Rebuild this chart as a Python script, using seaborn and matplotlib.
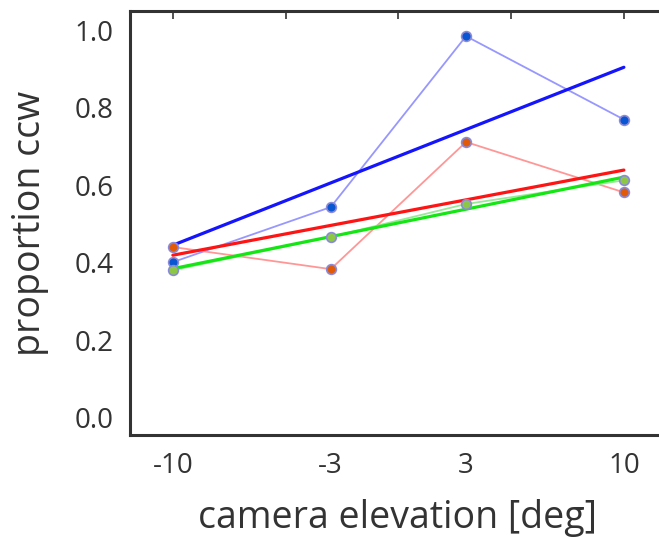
import numpy as np
import pandas as pd
import matplotlib
matplotlib.use("Agg")
import matplotlib.pyplot as plt
import seaborn as sns

# camera elevation conditions [deg]
elevation = [-10, -3, 3, 10]
tick_labels = ["-10", "-3", "3", "10"]

# proportion of ccw responses, one list per condition
blue_vals = [0.402, 0.544, 0.985, 0.770]
red_vals = [0.441, 0.384, 0.712, 0.582]
green_vals = [0.381, 0.467, 0.552, 0.613]

series = [
    ("blue", blue_vals, "#1414ff", "#8c8cff", "#0a55d2"),
    ("red", red_vals, "#ff1414", "#ff8c8c", "#e05a0a"),
    ("green", green_vals, "#14e614", "#8ce68c", "#8cc846"),
]

sns.set_style("white")
plt.rcParams["font.family"] = ["Open Sans", "DejaVu Sans"]

fig = plt.figure(figsize=(6.59, 5.38), dpi=100)
ax = fig.add_axes([0.1973, 0.1914, 0.811, 0.7882])

for name, vals, fit_col, thin_col, face_col in series:
    df = pd.DataFrame({"elev": elevation, "prop": vals})
    # least-squares fit line
    sns.regplot(data=df, x="elev", y="prop", ax=ax, scatter=False, ci=None,
                truncate=True, color=fit_col, line_kws={"lw": 2.3, "zorder": 3})
    # raw data, thin connecting line
    sns.lineplot(data=df, x="elev", y="prop", ax=ax, color=thin_col, lw=1.3,
                 alpha=0.9, zorder=2)
    ax.plot(df["elev"], df["prop"], ls="none", marker="o", ms=7,
            mfc=face_col, mec="#8a8ad8", mew=1.2, zorder=4)

ax.set_xlim(-11.9, 11.8)
ax.set_ylim(-0.044, 1.05)
ax.set_xticks(elevation)
ax.set_xticklabels(tick_labels)
ax.set_yticks([0.0, 0.2, 0.4, 0.6, 0.8, 1.0])
ax.set_yticklabels(["0.0", "0.2", "0.4", "0.6", "0.8", "1.0"])

ax.set_xlabel("camera elevation [deg]", fontsize=27, color="#333333", labelpad=14)
ax.set_ylabel("proportion ccw", fontsize=27, color="#333333", labelpad=18)

for side in ["left", "bottom", "top", "right"]:
    ax.spines[side].set_color("#333333")
    ax.spines[side].set_linewidth(2.2)

ax.tick_params(axis="both", direction="in", length=6, width=1.2,
               labelsize=20, colors="#333333", pad=12)

top = ax.secondary_xaxis("top")
top.set_xticks([-10, -5, 0, 5, 10])
top.set_xticklabels([])
top.tick_params(direction="in", length=6, width=1.2, colors="#333333")
top.spines["top"].set_visible(False)

ax.grid(False)
fig.savefig("out.png", dpi=100)
